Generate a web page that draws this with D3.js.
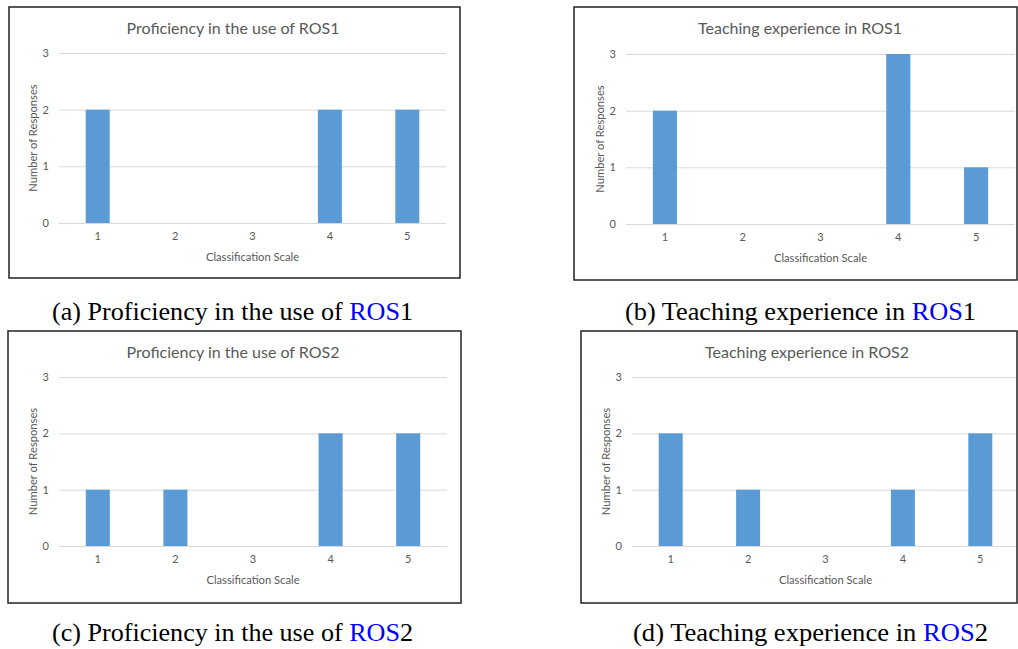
<!DOCTYPE html>
<html>
<head>
<meta charset="utf-8">
<script src="https://cdn.jsdelivr.net/npm/d3@7"></script>
<style>
  html, body { margin: 0; padding: 0; background: #fff; }
  svg { display: block; }
</style>
</head>
<body>
<div id="chart"></div>
<script>
const categories = ['1', '2', '3', '4', '5']
const yTicks = [0, 1, 2, 3]

const profROS1 = [2, 0, 0, 2, 2]
const teachROS1 = [2, 0, 0, 3, 1]
const profROS2 = [1, 1, 0, 2, 2]
const teachROS2 = [2, 1, 0, 1, 2]

const chartTitles = [
  'Proficiency in the use of ROS1',
  'Teaching experience in ROS1',
  'Proficiency in the use of ROS2',
  'Teaching experience in ROS2'
]
const captionPrefix = ['(a) Proficiency in the use of ', '(b) Teaching experience in ', '(c) Proficiency in the use of ', '(d) Teaching experience in ']
const captionSuffix = ['1', '1', '2', '2']

const xTitle = 'Classification Scale'
const yTitle = 'Number of Responses'

const W = 1018
const H = 649

// frame box, plot area, title centre, caption centre/baseline/width per panel
const layout = [
  { frame: [9, 7, 460, 278], plot: [59, 446, 53, 223], titleX: 233, cap: [232.5, 320, 361] },
  { frame: [574, 7, 1017, 280], plot: [626, 1015, 54, 224], titleX: 800, cap: [800.5, 320, 351] },
  { frame: [8, 331, 461, 603], plot: [59, 447, 377, 546], titleX: 233, cap: [232.5, 641, 361] },
  { frame: [581, 331, 1017, 603], plot: [632, 1019, 377, 546], titleX: 807, cap: [810.5, 641, 355] }
]

const series = [profROS1, teachROS1, profROS2, teachROS2]

const svg = d3
  .select('#chart')
  .append('svg')
  .attr('width', W)
  .attr('height', H)
  .attr('viewBox', [0, 0, W, H])

const chartFont = 'Lato, "Open Sans", sans-serif'
const textGray = '#595959'

function drawPanel(i) {
  const L = layout[i]
  const values = series[i]
  const [fx0, fy0, fx1, fy1] = L.frame
  const [px0, px1, py0, py1] = L.plot

  const g = svg.append('g').attr('class', 'panel')

  // clip so gridlines don't leak past the frame
  g.append('clipPath')
    .attr('id', 'clip' + i)
    .append('rect')
    .attr('x', fx0)
    .attr('y', fy0)
    .attr('width', fx1 - fx0)
    .attr('height', fy1 - fy0)

  const inner = g.append('g').attr('clip-path', `url(#clip${i})`)

  const x = d3.scaleBand().domain(categories).range([px0, px1]).paddingInner(0.69).paddingOuter(0.345)
  const y = d3.scaleLinear().domain([0, 3]).range([py1, py0])

  // gridlines
  inner
    .append('g')
    .selectAll('line')
    .data(yTicks)
    .join('line')
    .attr('x1', px0)
    .attr('x2', px1)
    .attr('y1', (d) => y(d) + 0.5)
    .attr('y2', (d) => y(d) + 0.5)
    .attr('stroke', '#d9d9d9')
    .attr('stroke-width', 1)

  // bars
  inner
    .append('g')
    .selectAll('rect')
    .data(values.map((v, k) => ({ cat: categories[k], v })))
    .join('rect')
    .attr('x', (d) => x(d.cat))
    .attr('width', x.bandwidth())
    .attr('y', (d) => y(d.v))
    .attr('height', (d) => y(0) - y(d.v))
    .attr('fill', '#5b9bd5')

  // y axis labels
  const yAxis = g
    .append('g')
    .attr('transform', `translate(${px0 - 10},0)`)
    .call(d3.axisLeft(y).tickValues(yTicks).tickFormat(d3.format('d')).tickSize(0).tickPadding(0))
  yAxis.select('.domain').remove()
  yAxis.selectAll('text').attr('fill', textGray).attr('font-family', chartFont).attr('font-size', 11)

  // x axis labels
  const xAxis = g
    .append('g')
    .attr('transform', `translate(0,${py1 + 9})`)
    .call(d3.axisBottom(x).tickSize(0).tickPadding(0))
  xAxis.select('.domain').remove()
  xAxis.selectAll('text').attr('fill', textGray).attr('font-family', chartFont).attr('font-size', 11)

  // title
  g.append('text')
    .attr('x', L.titleX)
    .attr('y', fy0 + 27)
    .attr('text-anchor', 'middle')
    .attr('fill', textGray)
    .attr('font-family', chartFont)
    .attr('font-size', 16)
    .text(chartTitles[i])

  // axis titles
  g.append('text')
    .attr('x', (px0 + px1) / 2)
    .attr('y', py1 + 38)
    .attr('text-anchor', 'middle')
    .attr('fill', textGray)
    .attr('font-family', chartFont)
    .attr('font-size', 11.2)
    .text(xTitle)

  g.append('text')
    .attr('transform', `translate(${px0 - 22},${(py0 + py1) / 2}) rotate(-90)`)
    .attr('text-anchor', 'middle')
    .attr('fill', textGray)
    .attr('font-family', chartFont)
    .attr('font-size', 11.2)
    .text(yTitle)

  // frame
  g.append('rect')
    .attr('x', fx0)
    .attr('y', fy0)
    .attr('width', fx1 - fx0)
    .attr('height', fy1 - fy0)
    .attr('fill', 'none')
    .attr('stroke', '#222')
    .attr('stroke-width', 1.5)

  // caption
  const cap = svg
    .append('text')
    .attr('x', L.cap[0])
    .attr('y', L.cap[1])
    .attr('text-anchor', 'middle')
    .attr('textLength', L.cap[2])
    .attr('lengthAdjust', 'spacingAndGlyphs')
    .attr('font-family', '"Liberation Serif", "Times New Roman", serif')
    .attr('font-size', 24.5)
    .attr('fill', '#000')
  cap.append('tspan').text(captionPrefix[i])
  cap.append('tspan').attr('fill', '#0000ff').text('ROS')
  cap.append('tspan').text(captionSuffix[i])
}

for (let i = 0; i < 4; i++) drawPanel(i)
</script>
</body>
</html>
